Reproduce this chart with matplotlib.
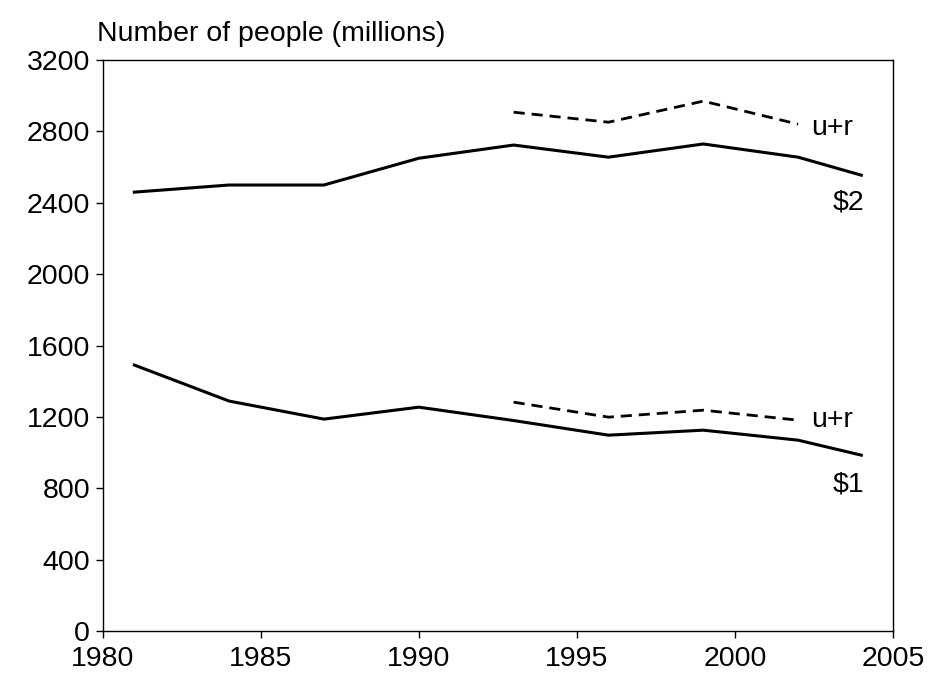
import matplotlib
matplotlib.use("Agg")
import matplotlib.pyplot as plt

years = [1981, 1984, 1987, 1990, 1993, 1996, 1999, 2002, 2004]
two_dollar = [2460, 2500, 2500, 2650, 2724, 2656, 2730, 2656, 2555]
one_dollar = [1491, 1289, 1188, 1255, 1180, 1098, 1126, 1070, 986]
ur_years = [1993, 1996, 1999, 2002]
ur_upper = [2908, 2852, 2970, 2841]
ur_lower = [1283, 1199, 1238, 1182]

plt.rcParams['font.family'] = ['Liberation Sans', 'DejaVu Sans']
fs = 20.5
fig = plt.figure(figsize=(9.34, 6.83), dpi=100)
ax = fig.add_axes([0.110, 0.076, 0.846, 0.836])
ax.plot(years, two_dollar, color='black', lw=2.2)
ax.plot(years, one_dollar, color='black', lw=2.2)
ax.plot(ur_years, ur_upper, color='black', lw=2, ls=(0, (4, 2.5)))
ax.plot(ur_years, ur_lower, color='black', lw=2, ls=(0, (4, 2.5)))
ax.text(2002.4, 2820, 'u+r', fontsize=fs, va='center')
ax.text(2002.4, 1185, 'u+r', fontsize=fs, va='center')
ax.text(2003.1, 2400, '$2', fontsize=fs, va='center')
ax.text(2003.1, 820, '$1', fontsize=fs, va='center')
ax.set_xlim(1980, 2005)
ax.set_ylim(0, 3200)
ax.set_xticks(range(1980, 2006, 5))
ax.set_yticks(range(0, 3201, 400))
ax.tick_params(labelsize=fs, direction='out', length=5, width=1)
ax.tick_params(axis='y', pad=4)
ax.tick_params(axis='x', pad=6)
for s in ax.spines.values():
    s.set_linewidth(1)
fig.text(0.104, 0.94, 'Number of people (millions)', fontsize=fs)
fig.savefig('out.png', dpi=100)
